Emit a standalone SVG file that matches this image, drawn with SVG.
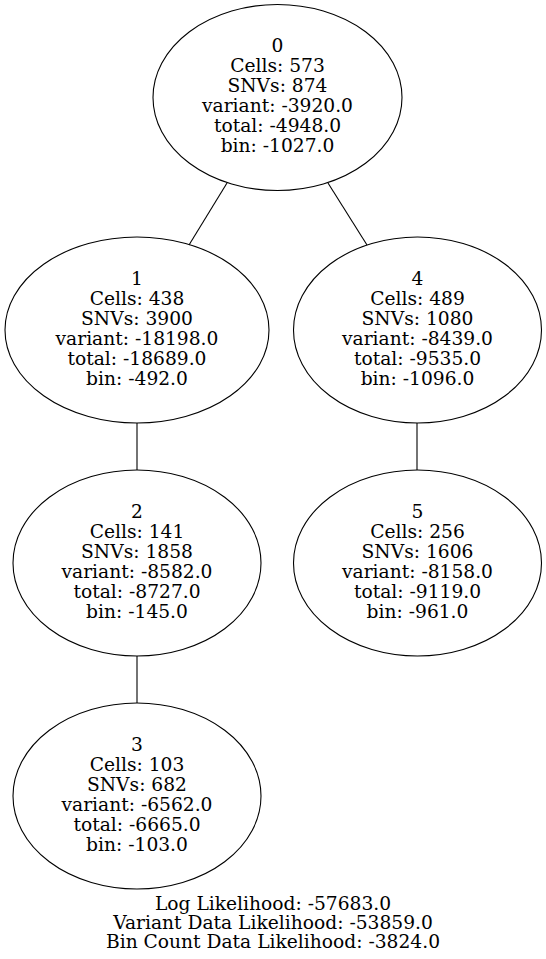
<svg xmlns="http://www.w3.org/2000/svg" width="546" height="959" viewBox="0 0 546 959">
<style>
.n ellipse{fill:none;stroke:#000;stroke-width:1.1}
text{font-family:"DejaVu Serif",serif;font-size:18.67px;text-anchor:middle;fill:#000}
#edges line{stroke:#000;stroke-width:1.1}
</style>
<rect width="546" height="959" fill="#fff"/>
<g id="edges">
<line x1="227" y1="183" x2="189" y2="245"/>
<line x1="328" y1="183" x2="367" y2="245"/>
<line x1="137" y1="423" x2="137" y2="470"/>
<line x1="417" y1="423" x2="417" y2="470"/>
<line x1="137" y1="656" x2="137" y2="703"/>
</g>
<g id="node0" class="n">
<ellipse cx="277.5" cy="97.5" rx="124.5" ry="93"/>
<text x="277.5" y="52">0</text><text x="277.5" y="72">Cells: 573</text><text x="277.5" y="92">SNVs: 874</text><text x="277.5" y="112">variant: -3920.0</text><text x="277.5" y="132">total: -4948.0</text><text x="277.5" y="152">bin: -1027.0</text>
</g>
<g id="node1" class="n">
<ellipse cx="137" cy="330" rx="132" ry="93"/>
<text x="137" y="285">1</text><text x="137" y="305">Cells: 438</text><text x="137" y="325">SNVs: 3900</text><text x="137" y="345">variant: -18198.0</text><text x="137" y="365">total: -18689.0</text><text x="137" y="385">bin: -492.0</text>
</g>
<g id="node4" class="n">
<ellipse cx="417.5" cy="330" rx="124" ry="93"/>
<text x="417.5" y="285">4</text><text x="417.5" y="305">Cells: 489</text><text x="417.5" y="325">SNVs: 1080</text><text x="417.5" y="345">variant: -8439.0</text><text x="417.5" y="365">total: -9535.0</text><text x="417.5" y="385">bin: -1096.0</text>
</g>
<g id="node2" class="n">
<ellipse cx="137" cy="563" rx="124" ry="93"/>
<text x="137" y="518">2</text><text x="137" y="538">Cells: 141</text><text x="137" y="558">SNVs: 1858</text><text x="137" y="578">variant: -8582.0</text><text x="137" y="598">total: -8727.0</text><text x="137" y="618">bin: -145.0</text>
</g>
<g id="node5" class="n">
<ellipse cx="417.5" cy="563" rx="124" ry="93"/>
<text x="417.5" y="518">5</text><text x="417.5" y="538">Cells: 256</text><text x="417.5" y="558">SNVs: 1606</text><text x="417.5" y="578">variant: -8158.0</text><text x="417.5" y="598">total: -9119.0</text><text x="417.5" y="618">bin: -961.0</text>
</g>
<g id="node3" class="n">
<ellipse cx="137" cy="796" rx="124" ry="93"/>
<text x="137" y="751">3</text><text x="137" y="771">Cells: 103</text><text x="137" y="791">SNVs: 682</text><text x="137" y="811">variant: -6562.0</text><text x="137" y="831">total: -6665.0</text><text x="137" y="851">bin: -103.0</text>
</g>
<g id="label">
<text x="273" y="910">Log Likelihood: -57683.0</text>
<text x="273" y="929">Variant Data Likelihood: -53859.0</text>
<text x="273" y="948">Bin Count Data Likelihood: -3824.0</text>
</g>
</svg>
